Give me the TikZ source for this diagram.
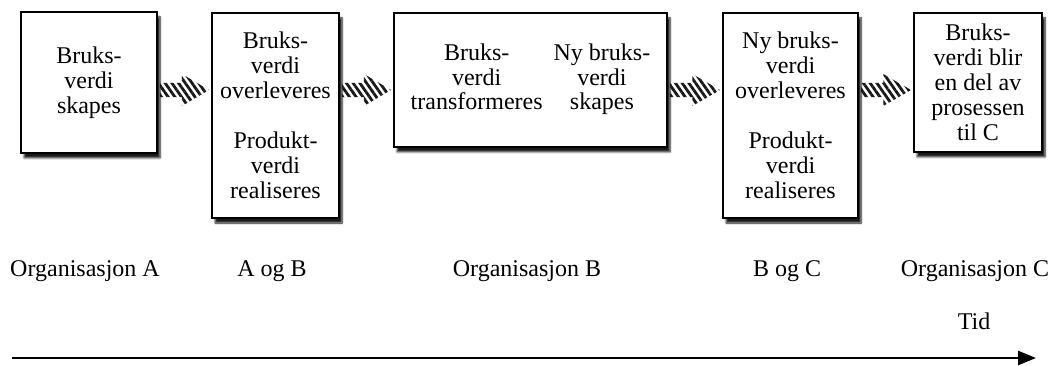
\documentclass[tikz,border=0pt]{standalone}
\usepackage{fontspec}
\setmainfont{Liberation Serif}
\usetikzlibrary{arrows.meta,calc,patterns.meta,shadows.blur}
\tikzset{
  figure/.style={x=1pt,y=1pt,font=\fontsize{24}{25}\selectfont},
  stage/.style={draw=black,line width=1.8pt,fill=white,align=center,inner sep=0pt,
    blur shadow={shadow xshift=3pt,shadow yshift=-5pt,shadow blur steps=6,shadow opacity=90}},
  handover/.style={pattern={Lines[angle=-55,distance=5.5pt,line width=2.8pt]},pattern color=black!90,
    to path={let \p1=(\tikztostart),\p2=(\tikztotarget),\n1={0.45*(\x2-\x1)} in
      (\x1+2pt,\y1+7pt) -- (\x1+\n1,\y1+7pt) -- (\x1+\n1,\y1+16pt) -- (\x2-2pt,\y1)
      -- (\x1+\n1,\y1-16pt) -- (\x1+\n1,\y1-7pt) -- (\x1+2pt,\y1-7pt) -- cycle}},
  timeline/.style={-{Triangle[length=18pt,width=14pt]},line width=2.6pt},
}

\begin{document}
\begin{tikzpicture}[figure]
  \useasboundingbox (0,0) rectangle (1052,365);
  \coordinate (flowline) at (0,275);

  % stages along the value chain
  \node[stage,minimum width=136pt,minimum height=141pt] (skapes) at (89,282.5)
    {Bruks-\\verdi\\skapes};
  \node[stage,minimum width=127pt,minimum height=205pt] (overAB) at (275.5,249.5)
    {Bruks-\\verdi\\overleveres\\[25pt]Produkt-\\verdi\\realiseres};
  \node[stage,minimum width=273pt,minimum height=134pt] (transf) at (530.5,285)
    {\begin{tabular}{@{}c@{\hspace{11pt}}c@{}}
       Bruks-&Ny bruks-\\
       verdi&verdi\\
       transformeres&skapes
     \end{tabular}};
  \node[stage,minimum width=135pt,minimum height=205pt] (overBC) at (790.5,249.5)
    {Ny bruks-\\verdi\\overleveres\\[25pt]Produkt-\\verdi\\realiseres};
  \node[stage,minimum width=128pt,minimum height=139pt] (prosessC) at (978,282.5)
    {Bruks-\\verdi blir\\en del av\\prosessen\\til C};

  % striped hand-over arrows
  \path[handover] (skapes.east |- flowline) to (overAB.west |- flowline);
  \path[handover] (overAB.east |- flowline) to (transf.west |- flowline);
  \path[handover] (transf.east |- flowline) to (overBC.west |- flowline);
  \path[handover] (overBC.east |- flowline) to (prosessC.west |- flowline);

  % actors
  \node[anchor=base] (orgA) at (85,89) {Organisasjon A};
  \node[anchor=base] (orgAB) at (272,89) {A og B};
  \node[anchor=base] (orgB) at (527,89) {Organisasjon B};
  \node[anchor=base] (orgBC) at (787,89) {B og C};
  \node[anchor=base] (orgC) at (975,89) {Organisasjon C};

  % time axis
  \node[anchor=base] (tid) at (974,36) {Tid};
  \coordinate (tstart) at (12,7);
  \coordinate (tend) at (1036,7);
  \draw[timeline] (tstart) -- (tend);
\end{tikzpicture}
\end{document}
